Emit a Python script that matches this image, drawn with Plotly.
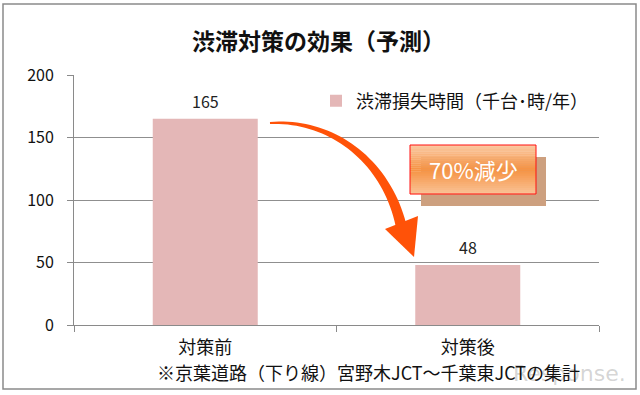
import plotly.graph_objects as go

# ---- data ----
categories = ["対策前", "対策後"]
values = [165, 48]
series_name = "渋滞損失時間（千台･時/年）"
title_text = "渋滞対策の効果（予測）"
footnote = "※京葉道路（下り線）宮野木JCT～千葉東JCTの集計"
badge_text = "70%減少"
y_ticks = [0, 50, 100, 150, 200]

FONT = "Noto Sans CJK JP"
W, H = 640, 395
L, R, T, B = 74, 41, 75, 70
PW, PH = W - L - R, H - T - B


def px(x, y):
    return (x - L) / PW, (H - B - y) / PH


fig = go.Figure()
fig.add_trace(go.Bar(
    x=categories, y=values, name=series_name,
    marker=dict(color="#E4B7B7", line=dict(width=0)),
    width=0.4, showlegend=True,
))

shapes = []
# outer border
x0, y0 = px(3, 389)
x1, y1 = px(636, 4)
shapes.append(dict(type="rect", xref="paper", yref="paper", x0=x0, y0=y0, x1=x1, y1=y1,
                   line=dict(color="#8a8a8a", width=1.5), fillcolor="rgba(0,0,0,0)", layer="below"))


def bez(t, p0, p1, p2, p3):
    u = 1 - t
    return (u**3 * p0[0] + 3 * u * u * t * p1[0] + 3 * u * t * t * p2[0] + t**3 * p3[0],
            u**3 * p0[1] + 3 * u * u * t * p1[1] + 3 * u * t * t * p2[1] + t**3 * p3[1])


# curved arrow body
P0, P1, P2, P3 = (270, 123), (330, 119), (388, 160), (402, 230)
N = 40
left, right = [], []
for i in range(N + 1):
    t = i / N
    x, y = bez(t, P0, P1, P2, P3)
    xa, ya = bez(min(t + 0.01, 1), P0, P1, P2, P3)
    xb, yb = bez(max(t - 0.01, 0), P0, P1, P2, P3)
    dx, dy = xa - xb, ya - yb
    n = (dx * dx + dy * dy) ** 0.5
    nx, ny = -dy / n, dx / n
    w = 1.0 + 4.5 * t
    left.append((x + nx * w, y + ny * w))
    right.append((x - nx * w, y - ny * w))
pts = left + right[::-1]
path = "M " + " L ".join(f"{px(a, b)[0]:.5f},{px(a, b)[1]:.5f}" for a, b in pts) + " Z"
shapes.append(dict(type="path", xref="paper", yref="paper", path=path,
                   fillcolor="#FF5208", line=dict(width=0)))
# arrow head
head = [(385, 229), (418, 216), (414, 257)]
path = "M " + " L ".join(f"{px(a, b)[0]:.5f},{px(a, b)[1]:.5f}" for a, b in head) + " Z"
shapes.append(dict(type="path", xref="paper", yref="paper", path=path,
                   fillcolor="#FF5208", line=dict(width=0)))

# badge shadow
sx0, sy0 = px(421, 206)
sx1, sy1 = px(546, 157)
shapes.append(dict(type="rect", xref="paper", yref="paper", x0=sx0, y0=sy0, x1=sx1, y1=sy1,
                   fillcolor="#CDA07F", line=dict(width=0)))
# badge gradient
bx0, bx1, by_top, by_bot = 410, 536, 145, 194
light_top = (251, 203, 165)
light_bot = (250, 196, 152)
dark = (246, 146, 66)
S = 24
for i in range(S):
    ya = by_top + (by_bot - by_top) * i / S
    yb = by_top + (by_bot - by_top) * (i + 1) / S
    t = (i + 0.5) / S
    if t < 0.5:
        f = t / 0.5
        c = tuple(int(light_top[k] + (dark[k] - light_top[k]) * f) for k in range(3))
    else:
        f = (1 - t) / 0.5
        c = tuple(int(light_bot[k] + (dark[k] - light_bot[k]) * f) for k in range(3))
    a0, b0 = px(bx0, yb + 0.3)
    a1, b1 = px(bx1, ya)
    shapes.append(dict(type="rect", xref="paper", yref="paper", x0=a0, y0=b0, x1=a1, y1=b1,
                       fillcolor=f"rgb{c}", line=dict(width=0)))
a0, b0 = px(bx0, by_bot)
a1, b1 = px(bx1, by_top)
shapes.append(dict(type="rect", xref="paper", yref="paper", x0=a0, y0=b0, x1=a1, y1=b1,
                   fillcolor="rgba(0,0,0,0)", line=dict(color="#FF1010", width=1)))

annotations = []
# data labels
for c, v in zip(categories, values):
    annotations.append(dict(x=c, y=v, xref="x", yref="y", text=str(v), showarrow=False,
                            xanchor="center", yanchor="middle",
                            yshift=18, font=dict(family=FONT, size=16, color="#222")))


def note(x, y, text, font, xanchor="center"):
    ax, ay = px(x, y)
    annotations.append(dict(x=ax, y=ay, xref="paper", yref="paper", text=text, showarrow=False,
                            xanchor=xanchor, yanchor="middle", font=font))


note(628, 373, "Response.", dict(family="DejaVu Sans", size=22, color="rgba(110,110,110,0.3)"),
     xanchor="right")
note(473, 169, badge_text, dict(family=FONT, size=22, color="white"))
note(368, 372, footnote, dict(family=FONT, size=18, color="#111"))
note(318, 40, "<b>" + title_text + "</b>", dict(family=FONT, size=23, color="#111"))

lx, ly = px(316, 101)
fig.update_layout(
    width=W, height=H,
    margin=dict(l=L, r=R, t=T, b=B, autoexpand=False),
    paper_bgcolor="white", plot_bgcolor="white",
    font=dict(family=FONT, size=16, color="#111"),
    bargap=0.6,
    showlegend=True,
    legend=dict(x=lx, y=ly, xanchor="left", yanchor="middle", bgcolor="rgba(0,0,0,0)",
                font=dict(family=FONT, size=18, color="#111"),
                itemwidth=30, tracegroupgap=0),
    shapes=shapes,
    annotations=annotations,
    xaxis=dict(type="category", showgrid=False, showline=True, linecolor="#8a8a8a", linewidth=1,
               ticks="outside", ticklen=6, tickcolor="#8a8a8a", tickson="boundaries",
               tickfont=dict(family=FONT, size=18, color="#111"), ticklabelstandoff=6,
               fixedrange=True),
    yaxis=dict(range=[0, 200], tickvals=y_ticks, showgrid=True, gridcolor="#8f8f8f", gridwidth=1,
               showline=True, linecolor="#8a8a8a", linewidth=1, ticks="outside", ticklen=6,
               tickcolor="#8a8a8a", tickfont=dict(family=FONT, size=16, color="#111"),
               ticklabelstandoff=10, zeroline=False, fixedrange=True),
)

fig.write_html("out.html", config={"displayModeBar": False},
               post_script="document.body.style.margin='0';document.body.style.padding='0';")
